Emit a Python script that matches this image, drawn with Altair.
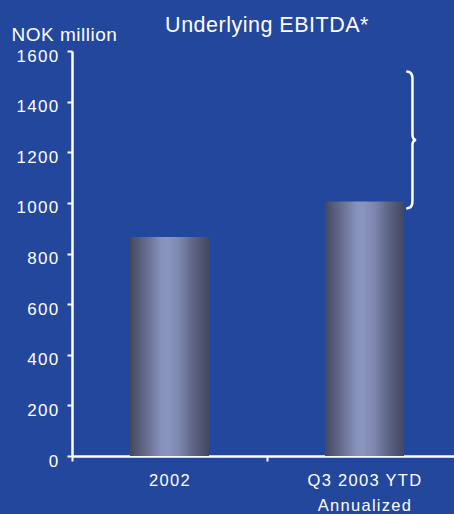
import altair as alt
import pandas as pd
import jinja2

# ---- data ----
categories = ["2002", "Q3 2003 YTD|Annualized"]
ebitda = [865, 1005]
brace_top = 1518
brace_bottom = 979

BG = "#22479c"
FONT = "Liberation Sans"

df = pd.DataFrame({"cat": categories, "value": ebitda})
brace_df = pd.DataFrame({"cat": [categories[1]], "mid": [(brace_top + brace_bottom) / 2]})

gradient = alt.LinearGradient(
    gradient="linear", x1=0, x2=1, y1=0, y2=0,
    stops=[
        alt.GradientStop(color="#434860", offset=0),
        alt.GradientStop(color="#585e7b", offset=0.12),
        alt.GradientStop(color="#6f779a", offset=0.26),
        alt.GradientStop(color="#8792bc", offset=0.4),
        alt.GradientStop(color="#8a95c0", offset=0.48),
        alt.GradientStop(color="#7c86ae", offset=0.63),
        alt.GradientStop(color="#5e6585", offset=0.8),
        alt.GradientStop(color="#434860", offset=1),
    ],
)

x_enc = alt.X(
    "cat:N", sort=categories, title=None,
    scale=alt.Scale(paddingInner=0, paddingOuter=0),
    axis=alt.Axis(
        labelAngle=0, tickBand="extent", labelExpr="split(datum.label, '|')",
        labelFontSize=16.5, labelLineHeight=25, labelPadding=11, tickSize=5,
        labelColor="white", domainColor="white", tickColor="white",
        domainWidth=2.5, tickWidth=2, labelFont=FONT,
    ),
)

y_scale = alt.Scale(domain=[0, 1600], nice=False)
y_axis = alt.Axis(
    values=[0, 200, 400, 600, 800, 1000, 1200, 1400, 1600], format="d",
    grid=False, labelFontSize=17, labelColor="white", labelFont=FONT,
    labelOffset=5, labelPadding=8, tickSize=5, tickWidth=2,
    domainColor="white", tickColor="white", domainWidth=2.5,
    title="NOK million", titleAngle=0, titleAlign="left", titleBaseline="alphabetic",
    titleX=-61, titleY=-11, titleFontSize=19, titleFontWeight="normal",
    titleColor="white", titleFont=FONT,
)

bars = alt.Chart(df).mark_bar(color=gradient, size=79).encode(
    x=x_enc,
    y=alt.Y("value:Q", scale=y_scale, axis=y_axis),
)

brace_path = (
    "M 0.61 -1 Q 0.70 -1 0.70 -0.9 L 0.70 -0.08 Q 0.70 0 0.755 0 "
    "Q 0.70 0 0.70 0.08 L 0.70 0.9 Q 0.70 1 0.61 1"
)
brace = alt.Chart(brace_df).mark_point(
    shape=brace_path, size=137 * 137, filled=False, stroke="white",
    strokeWidth=2.5, opacity=1,
).encode(
    x=alt.X("cat:N", sort=categories),
    y=alt.Y("mid:Q", scale=y_scale),
)

chart = (
    alt.layer(bars, brace)
    .properties(
        width=390, height=405,
        padding={"left": 72, "top": 51, "right": 0, "bottom": 58},
        autosize=alt.AutoSizeParams(type="none"),
        background=BG,
        title=alt.TitleParams(
            "Underlying EBITDA*", fontSize=21.5, font=FONT, fontWeight="normal",
            color="white", anchor="middle", frame="group", offset=19, dy=30,
        ),
    )
    .configure_view(stroke=None)
)

TEMPLATE = jinja2.Template("""<!DOCTYPE html>
<html>
<head>
  <style>
    html, body { margin: 0; padding: 0; background: """ + BG + """; overflow: hidden; }
    #{{ output_div }}.vega-embed { display: block; }
    #{{ output_div }} svg { flex-shrink: 0; max-width: none; }
    .role-axis-label text { letter-spacing: 1.3px; }
    .role-title-text text, .role-axis-title text { letter-spacing: 0.5px; }
  </style>
  <script type="text/javascript" src="{{ base_url }}/vega@{{ vega_version }}"></script>
  <script type="text/javascript" src="{{ base_url }}/vega-lite@{{ vegalite_version }}"></script>
  <script type="text/javascript" src="{{ base_url }}/vega-embed@{{ vegaembed_version }}"></script>
</head>
<body>
  <div id="{{ output_div }}"></div>
  <script>
    (function(vegaEmbed) {
      var spec = {{ spec }};
      var embedOpt = {{ embed_options }};
      const el = document.getElementById('{{ output_div }}');
      vegaEmbed("#{{ output_div }}", spec, embedOpt).catch(function(error) {
        el.innerHTML = '<div style="color:red;">' + error.message + '</div>';
      });
    })(vegaEmbed);
  </script>
</body>
</html>
""")

chart.save("out.html", embed_options={"renderer": "svg", "actions": False}, template=TEMPLATE)
